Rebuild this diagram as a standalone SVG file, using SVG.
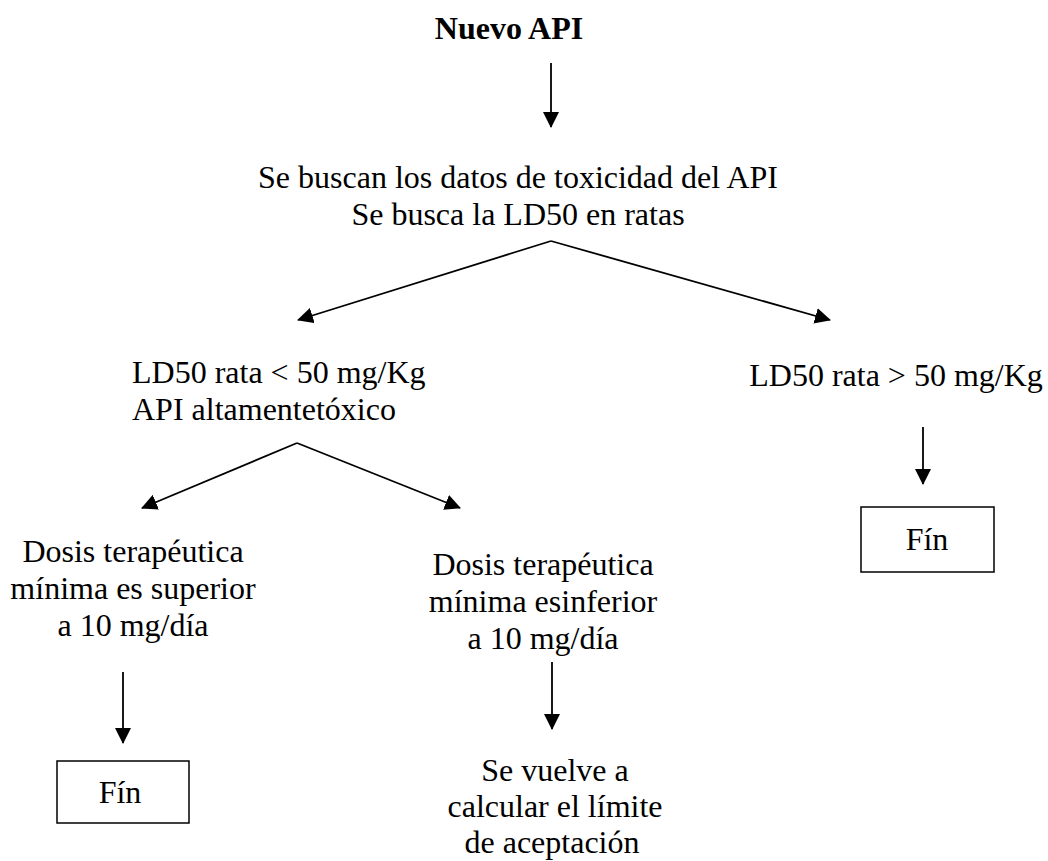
<svg xmlns="http://www.w3.org/2000/svg" width="1048" height="861" viewBox="0 0 1048 861">
  <style>
    .t { font-family: "Liberation Serif", "Times New Roman", serif; font-size: 32px; fill: #000; text-anchor: middle; }
    .l { text-anchor: start; }
    .title { font-weight: bold; }
    .link { stroke: #000; stroke-width: 1.8; fill: none; marker-end: url(#head); }
    .box { fill: #fff; stroke: #000; stroke-width: 1.5; }
  </style>
  <defs>
    <marker id="head" markerUnits="userSpaceOnUse" markerWidth="16" markerHeight="16" refX="15" refY="8" orient="auto">
      <path d="M0,0 L16,8 L0,16 Z" fill="#000"/>
    </marker>
  </defs>

  <g id="nuevo-api">
    <text class="t title" x="509" y="39">Nuevo API</text>
  </g>

  <g id="buscar-datos">
    <text class="t" x="518" y="188">Se buscan los datos de toxicidad del API</text>
    <text class="t" x="518" y="225">Se busca la LD50 en ratas</text>
  </g>

  <g id="ld50-bajo">
    <text class="t l" x="132" y="383">LD50 rata &lt; 50 mg/Kg</text>
    <text class="t l" x="132" y="420">API altamentetóxico</text>
  </g>

  <g id="ld50-alto">
    <text class="t" x="896" y="386">LD50 rata &gt; 50 mg/Kg</text>
  </g>

  <g id="fin-derecha">
    <rect class="box" x="861" y="507" width="133" height="65"/>
    <text class="t" x="927" y="550">Fín</text>
  </g>

  <g id="dosis-superior">
    <text class="t" x="133" y="562">Dosis terapéutica</text>
    <text class="t" x="133" y="599">mínima es superior</text>
    <text class="t" x="133" y="636">a 10 mg/día</text>
  </g>

  <g id="fin-izquierda">
    <rect class="box" x="57" y="761" width="132" height="62"/>
    <text class="t" x="120" y="803">Fín</text>
  </g>

  <g id="dosis-inferior">
    <text class="t" x="543" y="575">Dosis terapéutica</text>
    <text class="t" x="543" y="612">mínima esinferior</text>
    <text class="t" x="543" y="649">a 10 mg/día</text>
  </g>

  <g id="recalcular">
    <text class="t" x="555" y="781">Se vuelve a</text>
    <text class="t" x="555" y="817">calcular el límite</text>
    <text class="t" x="552" y="853">de aceptación</text>
  </g>

  <g id="connectors">
    <line class="link" x1="551" y1="63" x2="551" y2="127"/>
    <line class="link" x1="551" y1="241" x2="298" y2="320"/>
    <line class="link" x1="551" y1="241" x2="830" y2="320"/>
    <line class="link" x1="297" y1="443" x2="142" y2="508"/>
    <line class="link" x1="297" y1="443" x2="460" y2="508"/>
    <line class="link" x1="923" y1="427" x2="923" y2="484"/>
    <line class="link" x1="123" y1="672" x2="123" y2="743"/>
    <line class="link" x1="552" y1="662" x2="552" y2="729"/>
  </g>
</svg>
